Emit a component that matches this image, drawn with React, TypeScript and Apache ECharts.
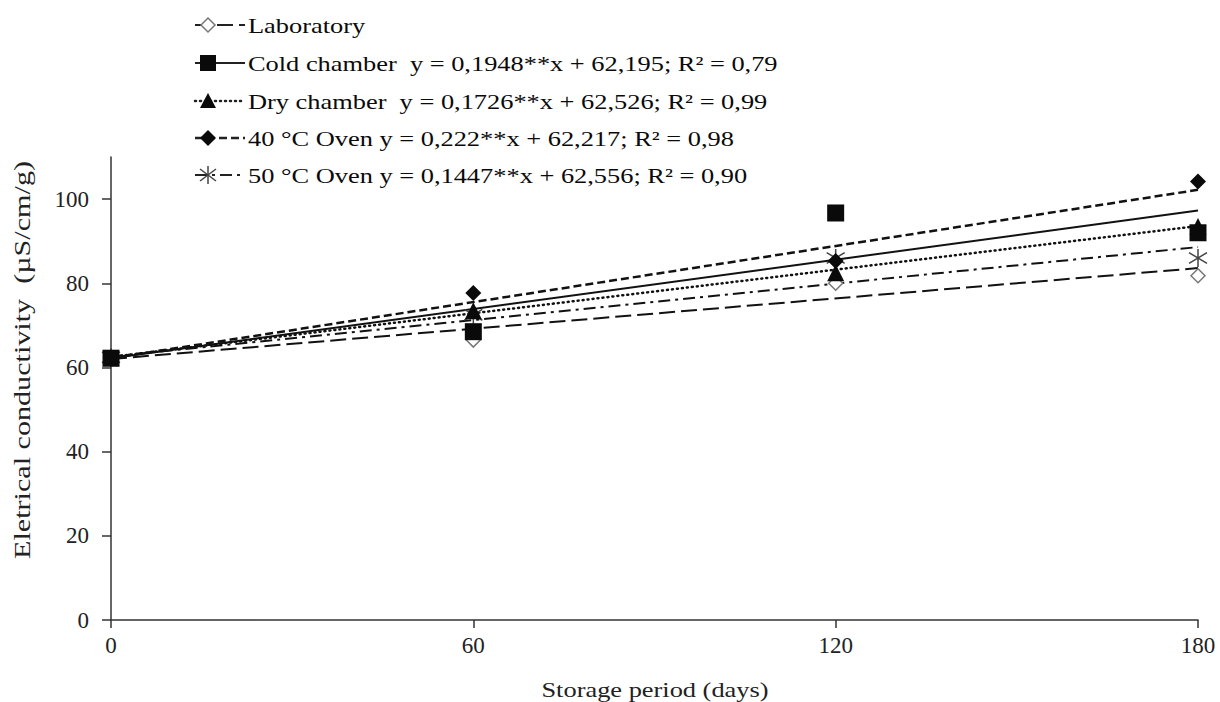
import React, { useEffect, useRef } from "react";
import * as echarts from "echarts";

// ---- data ----
const days = [0, 60, 120, 180];
const seriesNames = ["Laboratory", "Cold chamber", "Dry chamber", "40 °C Oven", "50 °C Oven"];
const laboratory = [62.2, 66.5, 80.0, 81.8];
const coldChamber = [62.2, 68.5, 96.7, 92.0];
const dryChamber = [62.3, 73.5, 82.5, 93.5];
const oven40 = [62.3, 77.7, 85.3, 104.2];
const oven50 = [62.4, 72.5, 86.0, 86.0];
// trend lines (value at day 0 and at day 180)
const trendStart = [62.0, 62.2, 62.5, 62.2, 62.6];
const trendEnd = [83.6, 97.3, 93.6, 102.2, 88.6];
const legendTexts = [
  "Laboratory",
  "Cold chamber  y = 0,1948**x + 62,195; R² = 0,79",
  "Dry chamber  y = 0,1726**x + 62,526; R² = 0,99",
  "40 °C Oven y = 0,222**x + 62,217; R² = 0,98",
  "50 °C Oven y = 0,1447**x + 62,556; R² = 0,90",
];
const yTicks = [0, 20, 40, 60, 80, 100];
const xTicks = [0, 60, 120, 180];
const xTitle = "Storage period (days)";
const yTitle = "Eletrical conductivity  (µS/cm/g)";

const FONT = '"Liberation Serif", "Times New Roman", serif';
const INK = "#0a0a0a";
const lineDashes: (number[] | "solid")[] = [[16, 6], "solid", [1, 4], [8, 4], [12, 5, 3, 5]];
const lineWidths = [2, 2, 2.5, 2.5, 2];
const lineCaps = ["butt", "butt", "round", "butt", "butt"];
const ASTERISK = "path://M10,0 L10,20 M1,4 L19,16 M1,16 L19,4";

const pointsSets = [laboratory, coldChamber, dryChamber, oven40, oven50];

function legendMarker(i: number, cx: number, cy: number): any {
  if (i === 0)
    return {
      type: "polygon",
      shape: { points: [[cx, cy - 7], [cx + 7, cy], [cx, cy + 7], [cx - 7, cy]] },
      style: { fill: "#fff", stroke: "#777", lineWidth: 1.5 },
    };
  if (i === 1)
    return { type: "rect", shape: { x: cx - 8, y: cy - 8, width: 16, height: 16 }, style: { fill: INK } };
  if (i === 2)
    return {
      type: "polygon",
      shape: { points: [[cx, cy - 8], [cx + 8, cy + 7], [cx - 8, cy + 7]] },
      style: { fill: INK },
    };
  if (i === 3)
    return {
      type: "polygon",
      shape: { points: [[cx, cy - 8], [cx + 8, cy], [cx, cy + 8], [cx - 8, cy]] },
      style: { fill: INK },
    };
  return {
    type: "group",
    children: [
      { type: "line", shape: { x1: cx, y1: cy - 9, x2: cx, y2: cy + 9 }, style: { stroke: "#444", lineWidth: 1.5 } },
      { type: "line", shape: { x1: cx - 8, y1: cy - 6, x2: cx + 8, y2: cy + 6 }, style: { stroke: "#444", lineWidth: 1.5 } },
      { type: "line", shape: { x1: cx - 8, y1: cy + 6, x2: cx + 8, y2: cy - 6 }, style: { stroke: "#444", lineWidth: 1.5 } },
    ],
  };
}

export default function App() {
  const ref = useRef<HTMLDivElement>(null);
  useEffect(() => {
    if (!ref.current) return;
    const chart = echarts.init(ref.current, undefined, { renderer: "svg" });

    const rowsY = [25, 63, 101, 138, 175];
    const legendGraphics: any[] = [];
    rowsY.forEach((y, i) => {
      const dash = lineDashes[i];
      legendGraphics.push({
        type: "line",
        shape: { x1: 195, y1: y, x2: 245, y2: y },
        style: {
          stroke: "#222",
          lineWidth: lineWidths[i],
          lineDash: dash === "solid" ? null : dash,
          lineCap: lineCaps[i],
        },
      });
      legendGraphics.push(legendMarker(i, 208, y));
      legendGraphics.push({
        type: "text",
        x: 248,
        y,
        scaleX: 1.2,
        style: { text: legendTexts[i], font: `22px ${FONT}`, fill: INK, verticalAlign: "middle", textAlign: "left" },
      });
    });
    legendGraphics.push({
      type: "text",
      x: 655,
      y: 689,
      scaleX: 1.2,
      style: { text: xTitle, font: `22px ${FONT}`, fill: "#222", textAlign: "center", verticalAlign: "middle" },
    });
    legendGraphics.push({
      type: "text",
      x: 22,
      y: 360,
      rotation: Math.PI / 2,
      scaleX: 1.31,
      style: { text: yTitle, font: `23px ${FONT}`, fill: "#222", textAlign: "center", verticalAlign: "middle" },
    });

    const trendSeries = seriesNames.map((name, i) => ({
      name: name + " trend",
      type: "line",
      z: 2,
      symbol: "none",
      silent: true,
      data: [
        [days[0], trendStart[i]],
        [days[days.length - 1], trendEnd[i]],
      ],
      lineStyle: {
        color: "#111",
        width: lineWidths[i],
        type: lineDashes[i],
        cap: lineCaps[i],
      },
    }));

    const symbolDefs: any[] = [
      { symbol: "diamond", size: 14, itemStyle: { color: "#fff", borderColor: "#777", borderWidth: 1.5, opacity: 1 } },
      { symbol: "rect", size: 17, itemStyle: { color: INK, opacity: 1 } },
      { symbol: "triangle", size: 17, itemStyle: { color: INK, opacity: 1 } },
      { symbol: "diamond", size: 16, itemStyle: { color: INK, opacity: 1 } },
      { symbol: ASTERISK, size: 18, itemStyle: { color: "rgba(0,0,0,0)", borderColor: "#444", borderWidth: 1.5, opacity: 1 } },
    ];
    const drawOrder = [0, 4, 2, 3, 1];
    const pointSeries = drawOrder.map((i, k) => ({
      name: seriesNames[i],
      type: "scatter",
      z: 3 + k,
      symbol: symbolDefs[i].symbol,
      symbolSize: symbolDefs[i].size,
      itemStyle: symbolDefs[i].itemStyle,
      data: days.map((d, j) => [d, pointsSets[i][j]]),
    }));

    chart.setOption({
      animation: false,
      backgroundColor: "#fff",
      grid: { left: 111, right: 22, top: 157, bottom: 82, containLabel: false },
      xAxis: {
        type: "value",
        min: 0,
        max: 180,
        interval: 60,
        splitLine: { show: false },
        axisLine: { show: true, onZero: false, lineStyle: { color: "#333", width: 1.5 } },
        axisTick: { show: true, inside: false, length: 8, lineStyle: { color: "#333", width: 1.5 } },
        axisLabel: {
          color: "#222",
          fontFamily: FONT,
          fontSize: 23,
          margin: 14,
          customValues: xTicks,
        },
      },
      yAxis: {
        type: "value",
        min: 0,
        max: 110,
        interval: 10,
        splitLine: { show: false },
        axisLine: { show: true, onZero: false, lineStyle: { color: "#333", width: 1.5 } },
        axisTick: { show: true, inside: false, length: 9, lineStyle: { color: "#333", width: 1.5 }, customValues: yTicks },
        axisLabel: {
          color: "#222",
          fontFamily: FONT,
          fontSize: 23,
          margin: 22,
          customValues: yTicks,
        },
      },
      graphic: legendGraphics,
      series: [...trendSeries, ...pointSeries],
    });
    return () => chart.dispose();
  }, []);
  return (
    <div
      ref={ref}
      style={{ position: "fixed", left: 0, top: 0, width: 1220, height: 702, background: "#fff" }}
    />
  );
}
